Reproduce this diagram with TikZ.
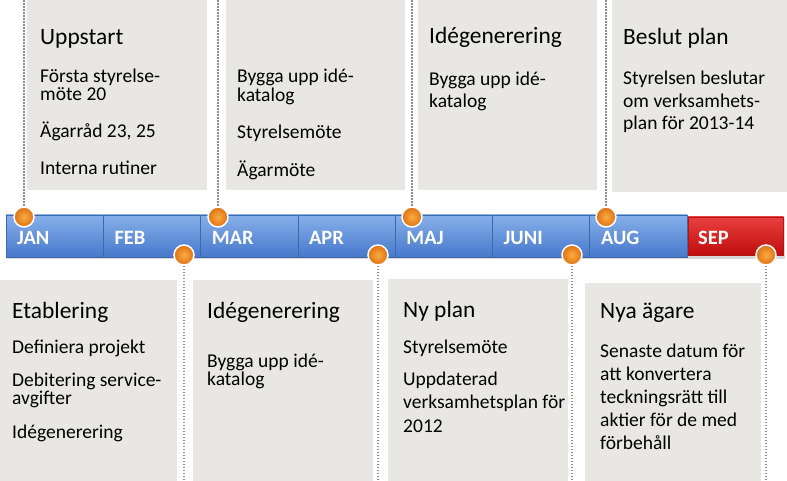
\documentclass[tikz,border=0pt]{standalone}
\usepackage{fontspec}
\setmainfont{Carlito}
\definecolor{boxgray}{RGB}{232,231,228}
\definecolor{bluetop}{RGB}{135,176,234}
\definecolor{bluebot}{RGB}{70,120,204}
\definecolor{blueline}{RGB}{62,104,172}
\definecolor{redtop}{RGB}{232,64,64}
\definecolor{redbot}{RGB}{192,12,12}
\definecolor{redline}{RGB}{180,20,20}
\definecolor{dotin}{RGB}{250,172,62}
\definecolor{dotout}{RGB}{222,112,22}
\definecolor{conngray}{RGB}{140,140,140}
\tikzset{
  gbox/.style={fill=boxgray, draw=none},
  ttl/.style={anchor=base west, inner sep=0pt, font=\fontsize{23.5}{27}\selectfont},
  bt/.style={anchor=base west, inner sep=0pt, font=\fontsize{19.6}{22}\selectfont},
  mon/.style={anchor=base west, inner sep=0pt, text=white, font=\bfseries\fontsize{20.5}{22}\selectfont},
  seg/.style={top color=bluetop, bottom color=bluebot, draw=blueline, line width=0.8bp},
  segred/.style={top color=redtop, bottom color=redbot, draw=redline, line width=0.5bp},
  tdot/.style={circle, minimum size=20bp, inner sep=0pt, inner color=dotin, outer color=dotout, draw=white, line width=1.5bp},
  conn/.style={draw=conngray, line width=1.6bp, dash pattern=on 1.6bp off 1.4bp}
}
\begin{document}
\begin{tikzpicture}[x=1bp,y=-1bp]
\useasboundingbox (0,0) rectangle (787,481);
% boxes
\fill[gbox] (27,0) rectangle (207,190);
\fill[gbox] (226,0) rectangle (405,190);
\fill[gbox] (418,0) rectangle (597,190);
\fill[gbox] (612,0) rectangle (787,192);
\fill[gbox] (0,280) rectangle (177,481);
\fill[gbox] (193,280) rectangle (373,481);
\fill[gbox] (388,279) rectangle (568,481);
\fill[gbox] (585,283) rectangle (761,481);
% bar shadow
\fill[black, opacity=0.15] (7,218) rectangle (785,259.5);
% segments
\foreach \m [count=\i from 0] in {JAN,FEB,MAR,APR,MAJ,JUNI,AUG} {
  \path[seg] (6+97.3*\i,215) rectangle (6+97.3*\i+97.3,257);
  \node[mon] (m\i) at (6+97.3*\i+11,245) {\m};
}
\path[segred] (688,217) rectangle (783.5,255.5);
\node[mon] (m7) at (698,245) {SEP};
% dots and connectors
\foreach \x [count=\i] in {24,218,412,606} {
  \coordinate (te\i) at (\x,0);
  \node[tdot] (td\i) at (\x,217) {};
}
\foreach \x [count=\i] in {184,378,572,766} {
  \coordinate (be\i) at (\x,481);
  \node[tdot] (bd\i) at (\x,255) {};
}
\foreach \i in {1,...,4} {
  \draw[conn] (te\i) -- (td\i.north);
  \draw[conn] (bd\i.south) -- (be\i);
}
% top box 1
\node[ttl] (t1) at (40,45) {Uppstart};
\foreach \t/\y [count=\i] in {{Första styrelse-}/82.5,{möte 20}/101,{Ägarråd 23, 25}/138,{Interna rutiner}/175}
  \node[bt] (t1l\i) at (40,\y) {\t};
% top box 2
\foreach \t/\y [count=\i] in {{Bygga upp idé-}/83,{katalog}/101.5,{Styrelsemöte}/139,{Ägarmöte}/177}
  \node[bt] (t2l\i) at (237,\y) {\t};
% top box 3
\node[ttl] (t3) at (429,44) {Idégenerering};
\foreach \t/\y [count=\i] in {{Bygga upp idé-}/86,{katalog}/108}
  \node[bt] (t3l\i) at (429,\y) {\t};
% top box 4
\node[ttl] (t4) at (623,45) {Beslut plan};
\foreach \t/\y [count=\i] in {{Styrelsen beslutar}/85,{om verksamhets-}/107.5,{plan för 2013-14}/130}
  \node[bt] (t4l\i) at (623,\y) {\t};
% bottom box 1
\node[ttl] (b1) at (12,318) {Etablering};
\foreach \t/\y [count=\i] in {{Definiera projekt}/353,{Debitering service-}/386,{avgifter}/404.5,{Idégenerering}/438}
  \node[bt] (b1l\i) at (12,\y) {\t};
% bottom box 2
\node[ttl] (b2) at (207,318) {Idégenerering};
\foreach \t/\y [count=\i] in {{Bygga upp idé-}/367,{katalog}/385.5}
  \node[bt] (b2l\i) at (207,\y) {\t};
% bottom box 3
\node[ttl] (b3) at (403,317) {Ny plan};
\foreach \t/\y [count=\i] in {{Styrelsemöte}/353,{Uppdaterad}/385,{verksamhetsplan för}/408,{2012}/432}
  \node[bt] (b3l\i) at (403,\y) {\t};
% bottom box 4
\node[ttl] (b4) at (600,318) {Nya ägare};
\foreach \t/\y [count=\i] in {{Senaste datum för}/357,{att konvertera}/380,{teckningsrätt till}/403,{aktier för de med}/426,{förbehåll}/449}
  \node[bt] (b4l\i) at (600,\y) {\t};
\end{tikzpicture}
\end{document}
